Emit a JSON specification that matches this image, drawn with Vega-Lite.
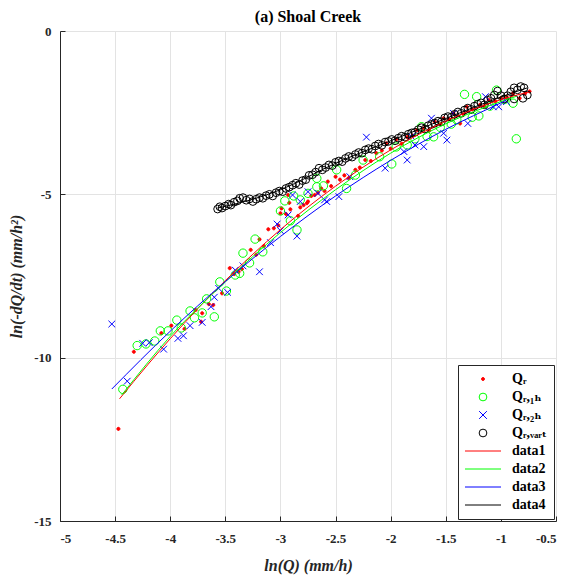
{
  "$schema": "https://vega.github.io/schema/vega-lite/v6.json",
  "width": 496,
  "height": 490,
  "autosize": "none",
  "padding": {"left": 60, "top": 31, "right": 17, "bottom": 60},
  "background": "white",
  "title": {"text": "(a) Shoal Creek", "font": "Times New Roman, Liberation Serif, serif", "fontSize": 16, "fontWeight": "bold", "color": "#000000", "offset": 0, "anchor": "middle"},
  "config": {
    "view": {"stroke": null},
    "axis": {
      "labelFont": "Times New Roman, Liberation Serif, serif", "labelFontSize": 13, "labelFontWeight": "bold", "labelColor": "#262626",
      "titleFont": "Times New Roman, Liberation Serif, serif", "titleFontSize": 16, "titleFontWeight": "bold", "titleFontStyle": "italic", "titleColor": "#262626",
      "gridColor": "#e3e3e3", "gridWidth": 1, "domainColor": "#262626", "tickColor": "#262626", "tickSize": -5, "labelPadding": 14
    },
    "legend": {
      "strokeColor": "#262626", "fillColor": "white", "padding": 7, "cornerRadius": 0,
      "labelFont": "Times New Roman, Liberation Serif, DejaVu Serif, serif", "labelFontSize": 14, "labelFontWeight": "bold", "labelColor": "#000000",
      "rowPadding": 4, "labelOffset": 22, "symbolOffset": 11, "symbolStrokeWidth": 1, "symbolSize": 60
    }
  },
  "datasets": {
    "pts": [
      {"s":"Qr","x":-4.47,"y":-12.18},{"s":"Qr","x":-4.33,"y":-9.82},{"s":"Qr","x":-4.08,"y":-9.25},{"s":"Qr","x":-3.99,"y":-9.02},{"s":"Qr","x":-3.87,"y":-9.12},{"s":"Qr","x":-3.77,"y":-8.54},{"s":"Qr","x":-3.71,"y":-8.64},{"s":"Qr","x":-3.72,"y":-8.9},{"s":"Qr","x":-3.65,"y":-8.36},{"s":"Qr","x":-3.61,"y":-8.39},{"s":"Qr","x":-3.53,"y":-8.03},{"s":"Qr","x":-3.46,"y":-7.26},{"s":"Qr","x":-3.42,"y":-7.44},{"s":"Qr","x":-3.38,"y":-7.37},{"s":"Qr","x":-3.35,"y":-7.29},{"s":"Qr","x":-3.27,"y":-6.7},{"s":"Qr","x":-3.22,"y":-6.85},{"s":"Qr","x":-3.19,"y":-6.38},{"s":"Qr","x":-3.15,"y":-6.58},{"s":"Qr","x":-3.11,"y":-6.07},{"s":"Qr","x":-3.06,"y":-6.04},{"s":"Qr","x":-3.02,"y":-5.95},{"s":"Qr","x":-2.99,"y":-5.43},{"s":"Qr","x":-3.0,"y":-5.58},{"s":"Qr","x":-2.95,"y":-5.6},{"s":"Qr","x":-2.93,"y":-5.02},{"s":"Qr","x":-2.92,"y":-5.26},{"s":"Qr","x":-2.91,"y":-5.46},{"s":"Qr","x":-2.84,"y":-5.66},{"s":"Qr","x":-2.82,"y":-5.4},{"s":"Qr","x":-2.79,"y":-5.33},{"s":"Qr","x":-2.76,"y":-5.27},{"s":"Qr","x":-2.75,"y":-5.22},{"s":"Qr","x":-2.72,"y":-5.05},{"s":"Qr","x":-2.69,"y":-5.02},{"s":"Qr","x":-2.66,"y":-4.95},{"s":"Qr","x":-2.63,"y":-4.82},{"s":"Qr","x":-2.6,"y":-4.9},{"s":"Qr","x":-2.57,"y":-4.61},{"s":"Qr","x":-2.54,"y":-4.75},{"s":"Qr","x":-2.5,"y":-4.46},{"s":"Qr","x":-2.46,"y":-4.55},{"s":"Qr","x":-2.42,"y":-4.42},{"s":"Qr","x":-2.38,"y":-4.5},{"s":"Qr","x":-2.32,"y":-4.25},{"s":"Qr","x":-2.28,"y":-4.18},{"s":"Qr","x":-2.23,"y":-3.95},{"s":"Qr","x":-2.18,"y":-3.98},{"s":"Qr","x":-2.13,"y":-3.74},{"s":"Qr","x":-2.08,"y":-3.66},{"s":"Qr","x":-2.04,"y":-3.44},{"s":"Qr","x":-2.0,"y":-3.6},{"s":"Qr","x":-1.95,"y":-3.32},{"s":"Qr","x":-1.9,"y":-3.45},{"s":"Qr","x":-1.85,"y":-3.25},{"s":"Qr","x":-1.8,"y":-3.2},{"s":"Qr","x":-1.76,"y":-3.03},{"s":"Qr","x":-1.7,"y":-2.98},{"s":"Qr","x":-1.65,"y":-3.05},{"s":"Qr","x":-1.6,"y":-2.78},{"s":"Qr","x":-1.55,"y":-2.85},{"s":"Qr","x":-1.52,"y":-2.67},{"s":"Qr","x":-1.47,"y":-2.7},{"s":"Qr","x":-1.43,"y":-2.52},{"s":"Qr","x":-1.37,"y":-2.83},{"s":"Qr","x":-1.34,"y":-2.55},{"s":"Qr","x":-1.31,"y":-2.32},{"s":"Qr","x":-1.26,"y":-2.4},{"s":"Qr","x":-1.19,"y":-2.26},{"s":"Qr","x":-1.15,"y":-2.3},{"s":"Qr","x":-1.11,"y":-2.11},{"s":"Qr","x":-1.05,"y":-2.15},{"s":"Qr","x":-1.0,"y":-2.05},{"s":"Qr","x":-0.95,"y":-2.01},{"s":"Qr","x":-0.89,"y":-1.91},{"s":"Qr","x":-0.83,"y":-2.06},{"s":"Qr","x":-0.78,"y":-1.91},{"s":"Qr","x":-0.74,"y":-1.85},
      {"s":"Qr1h","x":-4.43,"y":-10.97},{"s":"Qr1h","x":-4.3,"y":-9.63},{"s":"Qr1h","x":-4.22,"y":-9.58},{"s":"Qr1h","x":-4.14,"y":-9.49},{"s":"Qr1h","x":-4.09,"y":-9.18},{"s":"Qr1h","x":-4.02,"y":-9.18},{"s":"Qr1h","x":-3.94,"y":-8.85},{"s":"Qr1h","x":-3.9,"y":-9.09},{"s":"Qr1h","x":-3.82,"y":-8.57},{"s":"Qr1h","x":-3.78,"y":-8.78},{"s":"Qr1h","x":-3.71,"y":-8.63},{"s":"Qr1h","x":-3.67,"y":-8.2},{"s":"Qr1h","x":-3.6,"y":-8.75},{"s":"Qr1h","x":-3.55,"y":-7.68},{"s":"Qr1h","x":-3.49,"y":-7.96},{"s":"Qr1h","x":-3.41,"y":-7.47},{"s":"Qr1h","x":-3.37,"y":-7.42},{"s":"Qr1h","x":-3.34,"y":-6.8},{"s":"Qr1h","x":-3.28,"y":-7.1},{"s":"Qr1h","x":-3.23,"y":-6.37},{"s":"Qr1h","x":-3.16,"y":-6.76},{"s":"Qr1h","x":-3.0,"y":-5.51},{"s":"Qr1h","x":-2.96,"y":-5.2},{"s":"Qr1h","x":-2.91,"y":-5.81},{"s":"Qr1h","x":-2.88,"y":-5.05},{"s":"Qr1h","x":-2.85,"y":-6.09},{"s":"Qr1h","x":-2.82,"y":-5.17},{"s":"Qr1h","x":-2.75,"y":-4.97},{"s":"Qr1h","x":-2.67,"y":-4.77},{"s":"Qr1h","x":-2.67,"y":-4.51},{"s":"Qr1h","x":-2.61,"y":-4.74},{"s":"Qr1h","x":-2.49,"y":-4.25},{"s":"Qr1h","x":-2.4,"y":-4.82},{"s":"Qr1h","x":-2.32,"y":-4.41},{"s":"Qr1h","x":-2.25,"y":-3.95},{"s":"Qr1h","x":-2.1,"y":-3.85},{"s":"Qr1h","x":-1.99,"y":-4.07},{"s":"Qr1h","x":-1.95,"y":-3.55},{"s":"Qr1h","x":-1.85,"y":-3.49},{"s":"Qr1h","x":-1.78,"y":-3.3},{"s":"Qr1h","x":-1.72,"y":-2.93},{"s":"Qr1h","x":-1.67,"y":-3.23},{"s":"Qr1h","x":-1.61,"y":-3.24},{"s":"Qr1h","x":-1.55,"y":-2.95},{"s":"Qr1h","x":-1.45,"y":-2.85},{"s":"Qr1h","x":-1.4,"y":-2.72},{"s":"Qr1h","x":-1.33,"y":-1.94},{"s":"Qr1h","x":-1.26,"y":-2.64},{"s":"Qr1h","x":-1.22,"y":-2.01},{"s":"Qr1h","x":-1.2,"y":-2.6},{"s":"Qr1h","x":-1.1,"y":-2.3},{"s":"Qr1h","x":-1.04,"y":-1.81},{"s":"Qr1h","x":-0.97,"y":-2.1},{"s":"Qr1h","x":-0.89,"y":-2.21},{"s":"Qr1h","x":-0.86,"y":-3.3},
      {"s":"Qr2h","x":-4.53,"y":-8.97},{"s":"Qr2h","x":-4.39,"y":-10.72},{"s":"Qr2h","x":-4.25,"y":-9.56},{"s":"Qr2h","x":-4.19,"y":-9.54},{"s":"Qr2h","x":-4.06,"y":-9.74},{"s":"Qr2h","x":-3.93,"y":-9.41},{"s":"Qr2h","x":-3.88,"y":-9.33},{"s":"Qr2h","x":-3.82,"y":-9.02},{"s":"Qr2h","x":-3.71,"y":-8.92},{"s":"Qr2h","x":-3.63,"y":-8.44},{"s":"Qr2h","x":-3.6,"y":-8.15},{"s":"Qr2h","x":-3.56,"y":-7.88},{"s":"Qr2h","x":-3.48,"y":-8.0},{"s":"Qr2h","x":-3.41,"y":-7.32},{"s":"Qr2h","x":-3.34,"y":-7.19},{"s":"Qr2h","x":-3.19,"y":-7.37},{"s":"Qr2h","x":-3.09,"y":-6.48},{"s":"Qr2h","x":-3.03,"y":-5.91},{"s":"Qr2h","x":-3.0,"y":-6.11},{"s":"Qr2h","x":-2.93,"y":-5.63},{"s":"Qr2h","x":-2.89,"y":-5.02},{"s":"Qr2h","x":-2.85,"y":-6.28},{"s":"Qr2h","x":-2.82,"y":-5.22},{"s":"Qr2h","x":-2.75,"y":-4.92},{"s":"Qr2h","x":-2.66,"y":-4.97},{"s":"Qr2h","x":-2.6,"y":-5.17},{"s":"Qr2h","x":-2.58,"y":-5.22},{"s":"Qr2h","x":-2.47,"y":-5.07},{"s":"Qr2h","x":-2.37,"y":-4.46},{"s":"Qr2h","x":-2.22,"y":-3.25},{"s":"Qr2h","x":-2.05,"y":-4.2},{"s":"Qr2h","x":-1.88,"y":-3.69},{"s":"Qr2h","x":-1.85,"y":-3.95},{"s":"Qr2h","x":-1.81,"y":-3.23},{"s":"Qr2h","x":-1.78,"y":-3.49},{"s":"Qr2h","x":-1.7,"y":-3.54},{"s":"Qr2h","x":-1.63,"y":-2.67},{"s":"Qr2h","x":-1.52,"y":-3.13},{"s":"Qr2h","x":-1.49,"y":-3.34},{"s":"Qr2h","x":-1.43,"y":-2.52},{"s":"Qr2h","x":-1.3,"y":-2.83},{"s":"Qr2h","x":-1.14,"y":-2.01},{"s":"Qr2h","x":-1.07,"y":-2.32},{"s":"Qr2h","x":-1.02,"y":-2.32},{"s":"Qr2h","x":-0.95,"y":-2.16},
      {"s":"Qrvart","x":-3.57,"y":-5.45},{"s":"Qrvart","x":-3.55,"y":-5.38},{"s":"Qrvart","x":-3.53,"y":-5.42},{"s":"Qrvart","x":-3.5,"y":-5.36},{"s":"Qrvart","x":-3.47,"y":-5.3},{"s":"Qrvart","x":-3.45,"y":-5.33},{"s":"Qrvart","x":-3.42,"y":-5.24},{"s":"Qrvart","x":-3.39,"y":-5.2},{"s":"Qrvart","x":-3.37,"y":-5.12},{"s":"Qrvart","x":-3.34,"y":-5.1},{"s":"Qrvart","x":-3.31,"y":-5.18},{"s":"Qrvart","x":-3.28,"y":-5.14},{"s":"Qrvart","x":-3.25,"y":-5.22},{"s":"Qrvart","x":-3.22,"y":-5.15},{"s":"Qrvart","x":-3.19,"y":-5.1},{"s":"Qrvart","x":-3.16,"y":-5.12},{"s":"Qrvart","x":-3.13,"y":-5.04},{"s":"Qrvart","x":-3.1,"y":-5.0},{"s":"Qrvart","x":-3.07,"y":-5.05},{"s":"Qrvart","x":-3.04,"y":-4.95},{"s":"Qrvart","x":-3.01,"y":-4.9},{"s":"Qrvart","x":-2.98,"y":-4.92},{"s":"Qrvart","x":-2.95,"y":-4.82},{"s":"Qrvart","x":-2.92,"y":-4.78},{"s":"Qrvart","x":-2.89,"y":-4.72},{"s":"Qrvart","x":-2.86,"y":-4.66},{"s":"Qrvart","x":-2.83,"y":-4.7},{"s":"Qrvart","x":-2.8,"y":-4.58},{"s":"Qrvart","x":-2.77,"y":-4.55},{"s":"Qrvart","x":-2.74,"y":-4.42},{"s":"Qrvart","x":-2.71,"y":-4.4},{"s":"Qrvart","x":-2.68,"y":-4.32},{"s":"Qrvart","x":-2.65,"y":-4.2},{"s":"Qrvart","x":-2.62,"y":-4.25},{"s":"Qrvart","x":-2.59,"y":-4.18},{"s":"Qrvart","x":-2.56,"y":-4.1},{"s":"Qrvart","x":-2.53,"y":-4.12},{"s":"Qrvart","x":-2.5,"y":-4.02},{"s":"Qrvart","x":-2.47,"y":-3.98},{"s":"Qrvart","x":-2.44,"y":-4.0},{"s":"Qrvart","x":-2.41,"y":-3.9},{"s":"Qrvart","x":-2.38,"y":-3.84},{"s":"Qrvart","x":-2.35,"y":-3.86},{"s":"Qrvart","x":-2.32,"y":-3.78},{"s":"Qrvart","x":-2.29,"y":-3.72},{"s":"Qrvart","x":-2.26,"y":-3.74},{"s":"Qrvart","x":-2.23,"y":-3.64},{"s":"Qrvart","x":-2.2,"y":-3.6},{"s":"Qrvart","x":-2.17,"y":-3.62},{"s":"Qrvart","x":-2.14,"y":-3.52},{"s":"Qrvart","x":-2.11,"y":-3.46},{"s":"Qrvart","x":-2.08,"y":-3.5},{"s":"Qrvart","x":-2.05,"y":-3.4},{"s":"Qrvart","x":-2.02,"y":-3.38},{"s":"Qrvart","x":-1.99,"y":-3.32},{"s":"Qrvart","x":-1.96,"y":-3.36},{"s":"Qrvart","x":-1.93,"y":-3.28},{"s":"Qrvart","x":-1.9,"y":-3.22},{"s":"Qrvart","x":-1.87,"y":-3.25},{"s":"Qrvart","x":-1.84,"y":-3.16},{"s":"Qrvart","x":-1.81,"y":-3.12},{"s":"Qrvart","x":-1.78,"y":-3.1},{"s":"Qrvart","x":-1.75,"y":-3.02},{"s":"Qrvart","x":-1.72,"y":-2.96},{"s":"Qrvart","x":-1.69,"y":-3.0},{"s":"Qrvart","x":-1.66,"y":-2.9},{"s":"Qrvart","x":-1.63,"y":-2.86},{"s":"Qrvart","x":-1.6,"y":-2.82},{"s":"Qrvart","x":-1.57,"y":-2.76},{"s":"Qrvart","x":-1.54,"y":-2.78},{"s":"Qrvart","x":-1.51,"y":-2.66},{"s":"Qrvart","x":-1.48,"y":-2.62},{"s":"Qrvart","x":-1.45,"y":-2.64},{"s":"Qrvart","x":-1.42,"y":-2.55},{"s":"Qrvart","x":-1.39,"y":-2.48},{"s":"Qrvart","x":-1.36,"y":-2.52},{"s":"Qrvart","x":-1.33,"y":-2.42},{"s":"Qrvart","x":-1.3,"y":-2.36},{"s":"Qrvart","x":-1.27,"y":-2.4},{"s":"Qrvart","x":-1.24,"y":-2.3},{"s":"Qrvart","x":-1.21,"y":-2.24},{"s":"Qrvart","x":-1.18,"y":-2.2},{"s":"Qrvart","x":-1.15,"y":-2.26},{"s":"Qrvart","x":-1.12,"y":-2.12},{"s":"Qrvart","x":-1.09,"y":-2.06},{"s":"Qrvart","x":-1.06,"y":-1.96},{"s":"Qrvart","x":-1.03,"y":-1.84},{"s":"Qrvart","x":-1.0,"y":-1.98},{"s":"Qrvart","x":-0.97,"y":-2.08},{"s":"Qrvart","x":-0.94,"y":-1.98},{"s":"Qrvart","x":-0.91,"y":-1.86},{"s":"Qrvart","x":-0.88,"y":-1.74},{"s":"Qrvart","x":-0.85,"y":-1.8},{"s":"Qrvart","x":-0.82,"y":-1.7},{"s":"Qrvart","x":-0.79,"y":-1.74},{"s":"Qrvart","x":-0.76,"y":-1.96},{"s":"Qrvart","x":-0.8,"y":-2.06},{"s":"Qrvart","x":-0.88,"y":-2.08}
    ],
    "fits": [
      {"s":"data1","x":-4.46,"y":-11.26},{"s":"data1","x":-4.2,"y":-10.2},{"s":"data1","x":-4.0,"y":-9.42},{"s":"data1","x":-3.5,"y":-7.64},{"s":"data1","x":-3.0,"y":-6.08},{"s":"data1","x":-2.5,"y":-4.75},{"s":"data1","x":-2.0,"y":-3.64},{"s":"data1","x":-1.5,"y":-2.76},{"s":"data1","x":-1.0,"y":-2.1},{"s":"data1","x":-0.75,"y":-1.87},
      {"s":"data2","x":-4.44,"y":-11.14},{"s":"data2","x":-4.0,"y":-9.35},{"s":"data2","x":-3.5,"y":-7.68},{"s":"data2","x":-3.0,"y":-6.17},{"s":"data2","x":-2.5,"y":-4.86},{"s":"data2","x":-2.0,"y":-3.74},{"s":"data2","x":-1.5,"y":-2.84},{"s":"data2","x":-1.0,"y":-2.16},{"s":"data2","x":-0.86,"y":-2.0},
      {"s":"data3","x":-4.53,"y":-10.96},{"s":"data3","x":-4.0,"y":-9.19},{"s":"data3","x":-3.5,"y":-7.67},{"s":"data3","x":-3.0,"y":-6.29},{"s":"data3","x":-2.5,"y":-5.05},{"s":"data3","x":-2.0,"y":-3.96},{"s":"data3","x":-1.5,"y":-3.01},{"s":"data3","x":-1.0,"y":-2.2},{"s":"data3","x":-0.95,"y":-2.12},
      {"s":"data4","x":-3.57,"y":-5.42},{"s":"data4","x":-3.25,"y":-5.15},{"s":"data4","x":-3.0,"y":-4.86},{"s":"data4","x":-2.5,"y":-4.05},{"s":"data4","x":-2.0,"y":-3.36},{"s":"data4","x":-1.5,"y":-2.68},{"s":"data4","x":-1.0,"y":-2.02},{"s":"data4","x":-0.76,"y":-1.74}
    ]
  },
  "encoding": {
    "x": {"field": "x", "type": "quantitative", "scale": {"domain": [-5, -0.5], "nice": false, "zero": false},
          "axis": {"title": "ln(Q) (mm/h)", "values": [-5,-4.5,-4,-3.5,-3,-2.5,-2,-1.5,-1,-0.5], "labelExpr": "toString(datum.value)", "titlePadding": 12, "labelPadding": 16}},
    "y": {"field": "y", "type": "quantitative", "scale": {"domain": [-15, 0], "nice": false, "zero": false},
          "axis": {"title": "ln(-dQ/dt) (mm/h²)", "values": [-15,-10,-5,0], "labelExpr": "toString(datum.value)", "titlePadding": 9}},
    "stroke": {"field": "s", "type": "nominal",
               "scale": {"domain": ["Qr","Qr1h","Qr2h","Qrvart","data1","data2","data3","data4"], "range": ["#ff0000","#00ff00","#0000ff","#000000","#ff0000","#00ff00","#0000ff","#000000"]},
               "legend": {"orient": "bottom-right", "title": null, "offset": 2,
                          "labelExpr": "datum.label == 'Qr' ? 'Qᵣ' : datum.label == 'Qr1h' ? 'Qᵣ,₁ₕ' : datum.label == 'Qr2h' ? 'Qᵣ,₂ₕ' : datum.label == 'Qrvart' ? 'Qᵣ,ᵥₐᵣₜ' : datum.label"}}
  },
  "layer": [
    {
      "data": {"name": "pts"},
      "transform": [{"filter": "datum.s == 'Qr'"}],
      "mark": {"type": "point", "strokeWidth": 1, "opacity": 1, "size": 60},
      "encoding": {
        "fill": {"field": "s", "type": "nominal",
                 "scale": {"domain": ["Qr","Qr1h","Qr2h","Qrvart","data1","data2","data3","data4"], "range": ["#ff0000","transparent","transparent","transparent","transparent","transparent","transparent","transparent"]},
                 "legend": {"orient": "bottom-right", "title": null, "offset": 2,
                          "labelExpr": "datum.label == 'Qr' ? 'Qᵣ' : datum.label == 'Qr1h' ? 'Qᵣ,₁ₕ' : datum.label == 'Qr2h' ? 'Qᵣ,₂ₕ' : datum.label == 'Qrvart' ? 'Qᵣ,ᵥₐᵣₜ' : datum.label"}},
        "shape": {"field": "s", "type": "nominal",
                  "scale": {"domain": ["Qr","Qr1h","Qr2h","Qrvart","data1","data2","data3","data4"], "range": ["M-0.4,0A0.4,0.4 0 1,0 0.4,0A0.4,0.4 0 1,0 -0.4,0Z","circle","M-1,-1L1,1M-1,1L1,-1","circle","M-4.65,0L4.65,0","M-4.65,0L4.65,0","M-4.65,0L4.65,0","M-4.65,0L4.65,0"]},
                  "legend": {"orient": "bottom-right", "title": null, "offset": 2,
                          "labelExpr": "datum.label == 'Qr' ? 'Qᵣ' : datum.label == 'Qr1h' ? 'Qᵣ,₁ₕ' : datum.label == 'Qr2h' ? 'Qᵣ,₂ₕ' : datum.label == 'Qrvart' ? 'Qᵣ,ᵥₐᵣₜ' : datum.label"}}
      }
    },
    {
      "data": {"name": "pts"},
      "transform": [{"filter": "datum.s == 'Qr1h'"}],
      "mark": {"type": "point", "strokeWidth": 1, "opacity": 1, "size": 70},
      "encoding": {"fill": {"field": "s", "type": "nominal"}, "shape": {"field": "s", "type": "nominal"}}
    },
    {
      "data": {"name": "pts"},
      "transform": [{"filter": "datum.s == 'Qr2h'"}],
      "mark": {"type": "point", "strokeWidth": 1, "opacity": 1, "size": 45},
      "encoding": {"fill": {"field": "s", "type": "nominal"}, "shape": {"field": "s", "type": "nominal"}}
    },
    {
      "data": {"name": "pts"},
      "transform": [{"filter": "datum.s == 'Qrvart'"}],
      "mark": {"type": "point", "strokeWidth": 1, "opacity": 1, "size": 60},
      "encoding": {"fill": {"field": "s", "type": "nominal"}, "shape": {"field": "s", "type": "nominal"}}
    },
    {
      "data": {"name": "fits"},
      "mark": {"type": "line", "strokeWidth": 1, "interpolate": "monotone"},
      "encoding": {}
    }
  ]
}
